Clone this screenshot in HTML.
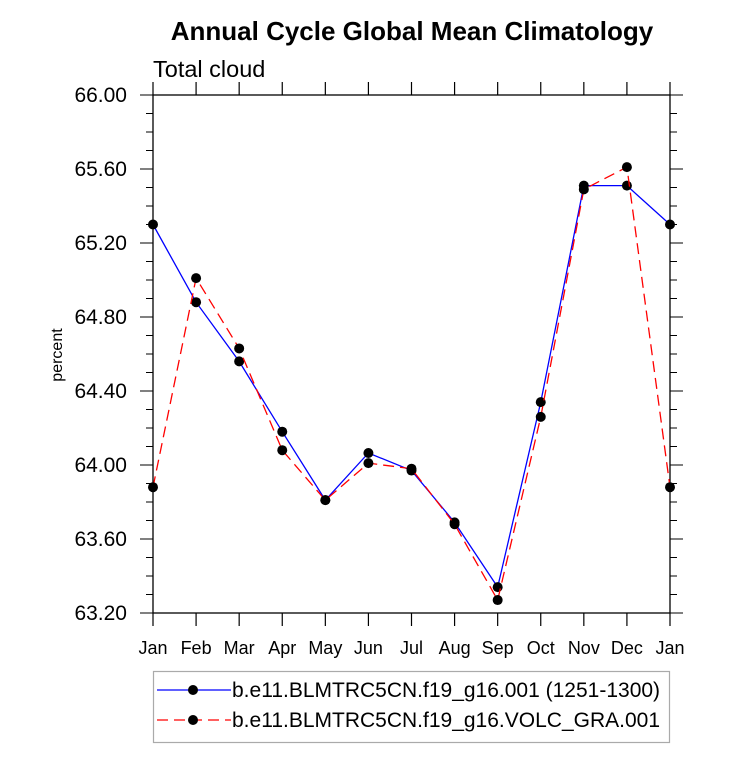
<!DOCTYPE html>
<html><head><meta charset="utf-8"><style>
body{margin:0;background:#fff}
svg{display:block;font-family:"Liberation Sans",Arial,sans-serif}
</style></head><body>
<svg id="c" width="733" height="763">
<text x="412" y="40" text-anchor="middle" font-size="26" font-weight="bold">Annual Cycle Global Mean Climatology</text>
<text x="153" y="77" font-size="23.5">Total cloud</text>
<text transform="translate(62,355) rotate(-90)" text-anchor="middle" font-size="16">percent</text>
<g id="axes"></g>
<g id="series"></g>
<g>
<rect x="153.5" y="671.5" width="516" height="71" fill="none" stroke="#aaa" stroke-width="1.2"/>
<g>
<line x1="157" y1="690" x2="231" y2="690" stroke="#0000ff" stroke-width="1.3"/>
<circle cx="193" cy="690" r="5"/>
<text x="232" y="697" font-size="21">b.e11.BLMTRC5CN.f19_g16.001 (1251-1300)</text></g>
<g>
<line x1="157" y1="720" x2="231" y2="720" stroke="#ff0000" stroke-width="1.3" stroke-dasharray="11,6"/>
<circle cx="193" cy="720" r="5"/>
<text x="232" y="727" font-size="21">b.e11.BLMTRC5CN.f19_g16.VOLC_GRA.001</text></g>
</g>
</svg>
<script>
const months=["Jan","Feb","Mar","Apr","May","Jun","Jul","Aug","Sep","Oct","Nov","Dec","Jan"];
const yTicks=[63.2,63.6,64.0,64.4,64.8,65.2,65.6,66.0];
const controlVals=[65.30,64.88,64.56,64.18,63.81,64.065,63.97,63.69,63.34,64.34,65.51,65.51,65.30];
const volcVals=[63.88,65.01,64.63,64.08,63.81,64.01,63.98,63.68,63.27,64.26,65.49,65.61,63.88];
const L=153,R=670,T=95,B=613,ymin=63.2,ymax=66.0;
const xs=i=>L+(R-L)*i/(months.length-1);
const ys=v=>B-(v-ymin)/(ymax-ymin)*(B-T);
const NS="http://www.w3.org/2000/svg";
function mk(tag,attrs,parent){const e=document.createElementNS(NS,tag);for(const k in attrs)e.setAttribute(k,attrs[k]);parent.appendChild(e);return e;}
const ax=document.getElementById('axes');
const frame=mk('rect',{x:L,y:T,width:R-L,height:B-T,fill:'none',stroke:'#000','stroke-width':1.3},ax);


months.forEach((m,i)=>{const x=xs(i);
mk('line',{x1:x,y1:B,x2:x,y2:B+13,stroke:'#000','stroke-width':1.2},ax);
mk('line',{x1:x,y1:T,x2:x,y2:T-13,stroke:'#000','stroke-width':1.2},ax);
const t=mk('text',{x:x,y:B+41,'text-anchor':'middle','font-size':18},ax);t.textContent=m;

});
for(let v=ymin;v<=ymax+1e-6;v+=0.1){const y=ys(v);const major=Math.abs((v-ymin)/0.4-Math.round((v-ymin)/0.4))<1e-3;const len=major?13:7;
mk('line',{x1:L,y1:y,x2:L-len,y2:y,stroke:'#000','stroke-width':1},ax);
mk('line',{x1:R,y1:y,x2:R+len,y2:y,stroke:'#000','stroke-width':1},ax);}
yTicks.forEach(v=>{const t=mk('text',{x:L-26,y:ys(v)+7,'text-anchor':'end','font-size':21},ax);t.textContent=v.toFixed(2);

});
const sg=document.getElementById('series');
function series(vals,color,dash,name){const g=mk('g',{},sg);


const p=mk('polyline',{points:vals.map((v,i)=>xs(i)+','+ys(v)).join(' '),fill:'none',stroke:color,'stroke-width':1.3},g);
if(dash)p.setAttribute('stroke-dasharray',dash);
vals.forEach((v,i)=>{const c=mk('circle',{cx:xs(i),cy:ys(v),r:5,fill:'#000'},g);

});}
series(controlVals,'#0000ff',null,'control-series');
series(volcVals,'#ff0000','11,6','volc-series');
</script>
</body></html>
